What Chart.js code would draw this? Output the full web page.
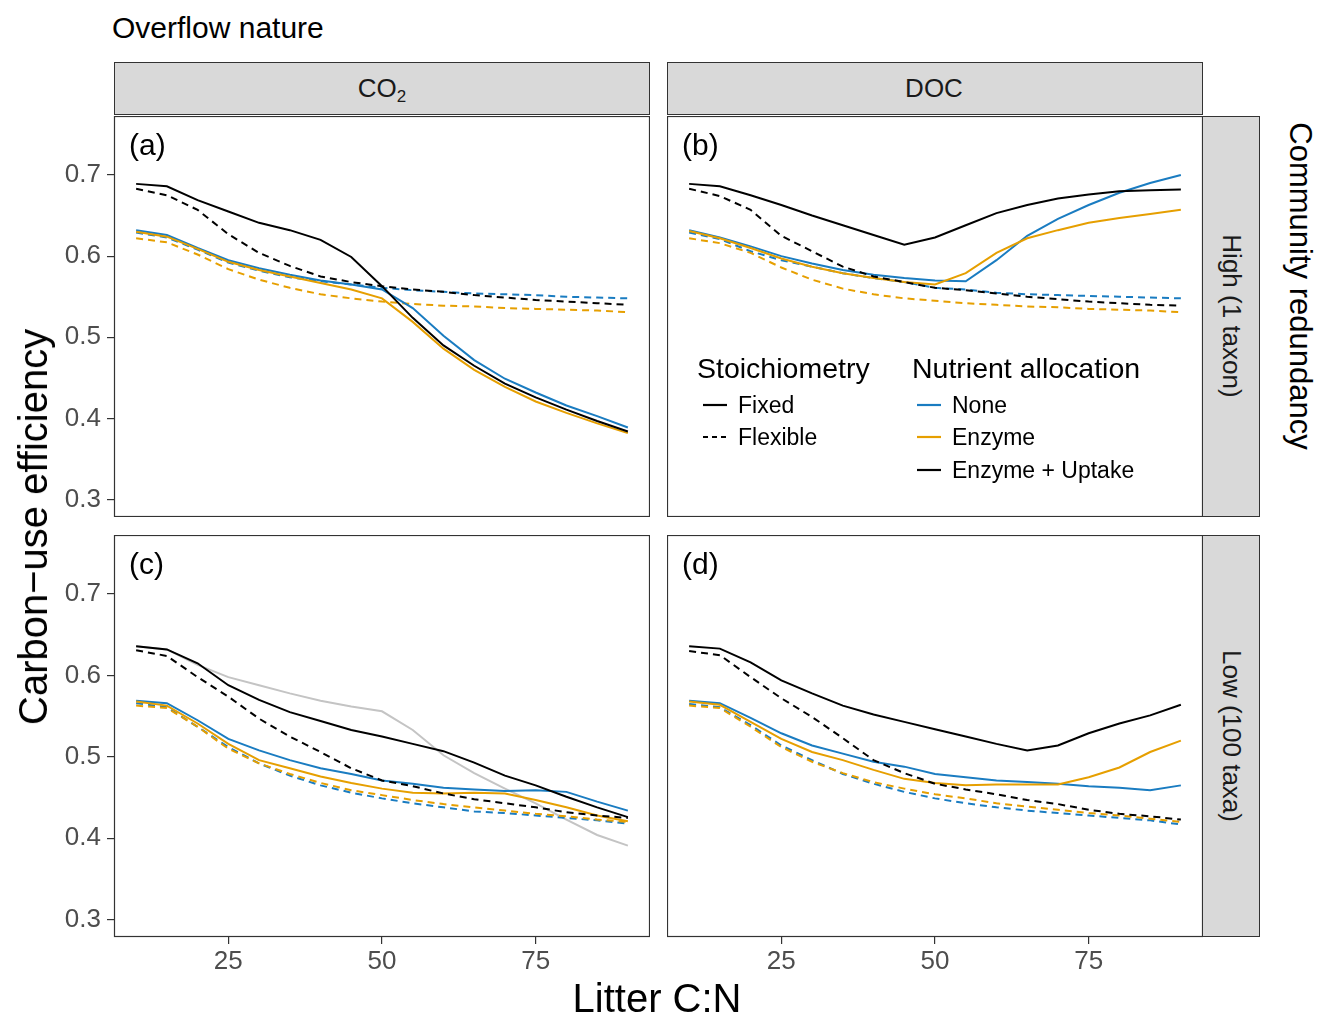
<!DOCTYPE html>
<html>
<head>
<meta charset="utf-8">
<script src="https://cdn.jsdelivr.net/npm/chart.js@4.4.1/dist/chart.umd.min.js"></script>
<style>
  body { margin: 0; background: #fff; font-family: 'Liberation Sans', Arial, sans-serif; }
  #page { position: relative; width: 1317px; height: 1015px; overflow: hidden; background: #fff; }
  canvas { position: absolute; }
  .t { position: absolute; white-space: nowrap; line-height: 1; color: #000; }
  .c { transform: translate(-50%, -50%); }
  .l { transform: translate(0, -50%); }
  .r90 { transform: translate(-50%, -50%) rotate(90deg); }
  .rm90 { transform: translate(-50%, -50%) rotate(-90deg); }
  .strip { position: absolute; background: #d9d9d9; border: 1px solid #333; box-sizing: border-box; }
  .sw { position: absolute; }
</style>
</head>
<body>
<div id="page"></div>
<script>
const FONT = "'Liberation Sans', Arial, sans-serif";

// x = litter C:N
const xs = [10, 15, 20, 25, 30, 35, 40, 45, 50, 55, 60, 65, 70, 75, 80, 85, 90];
const xTicks = [25, 50, 75];
const yTicks = [0.3, 0.4, 0.5, 0.6, 0.7];

// (a) CO2, high redundancy
const co2HighFixedUptake = [0.689, 0.686, 0.669, 0.655, 0.641, 0.632, 0.620, 0.599, 0.563, 0.524, 0.490, 0.465, 0.443, 0.426, 0.411, 0.397, 0.384];
const co2HighFixedEnzyme = [0.630, 0.624, 0.609, 0.593, 0.583, 0.575, 0.567, 0.559, 0.548, 0.519, 0.486, 0.460, 0.439, 0.421, 0.407, 0.394, 0.382];
const co2HighFixedNone   = [0.632, 0.626, 0.610, 0.595, 0.585, 0.577, 0.570, 0.565, 0.559, 0.536, 0.502, 0.472, 0.449, 0.432, 0.416, 0.403, 0.389];
const co2HighFlexUptake  = [0.683, 0.675, 0.657, 0.627, 0.604, 0.588, 0.575, 0.568, 0.563, 0.559, 0.556, 0.552, 0.549, 0.546, 0.544, 0.542, 0.540];
const co2HighFlexEnzyme  = [0.622, 0.617, 0.602, 0.584, 0.571, 0.561, 0.553, 0.548, 0.544, 0.541, 0.539, 0.538, 0.536, 0.535, 0.534, 0.533, 0.531];
const co2HighFlexNone    = [0.629, 0.623, 0.608, 0.592, 0.582, 0.574, 0.569, 0.565, 0.561, 0.558, 0.556, 0.554, 0.553, 0.552, 0.550, 0.549, 0.548];

// (b) DOC, high redundancy
const docHighFixedUptake = [0.689, 0.686, 0.675, 0.663, 0.650, 0.638, 0.626, 0.614, 0.623, 0.638, 0.653, 0.663, 0.671, 0.676, 0.680, 0.681, 0.682];
const docHighFixedEnzyme = [0.631, 0.622, 0.610, 0.597, 0.587, 0.579, 0.573, 0.568, 0.565, 0.579, 0.604, 0.622, 0.632, 0.641, 0.647, 0.652, 0.657];
const docHighFixedNone   = [0.632, 0.623, 0.612, 0.600, 0.591, 0.583, 0.577, 0.573, 0.570, 0.569, 0.595, 0.625, 0.646, 0.663, 0.678, 0.690, 0.700];
const docHighFlexUptake  = [0.683, 0.674, 0.657, 0.625, 0.606, 0.587, 0.575, 0.568, 0.561, 0.558, 0.554, 0.550, 0.547, 0.544, 0.542, 0.540, 0.539];
const docHighFlexEnzyme  = [0.622, 0.616, 0.604, 0.586, 0.571, 0.560, 0.553, 0.548, 0.545, 0.542, 0.540, 0.538, 0.537, 0.535, 0.534, 0.533, 0.531];
const docHighFlexNone    = [0.629, 0.621, 0.606, 0.595, 0.587, 0.579, 0.573, 0.568, 0.561, 0.559, 0.555, 0.553, 0.552, 0.551, 0.550, 0.549, 0.548];

// (c) CO2, low redundancy (+ grey reference line)
const co2LowFixedUptake  = [0.636, 0.632, 0.615, 0.588, 0.570, 0.555, 0.544, 0.533, 0.525, 0.516, 0.507, 0.493, 0.477, 0.465, 0.451, 0.438, 0.426];
const co2LowFixedEnzyme  = [0.568, 0.563, 0.541, 0.516, 0.496, 0.486, 0.476, 0.468, 0.461, 0.456, 0.455, 0.456, 0.455, 0.447, 0.438, 0.428, 0.421];
const co2LowFixedNone    = [0.569, 0.566, 0.545, 0.522, 0.508, 0.496, 0.486, 0.479, 0.471, 0.467, 0.462, 0.460, 0.458, 0.459, 0.457, 0.445, 0.434];
const co2LowFlexUptake   = [0.631, 0.624, 0.598, 0.574, 0.547, 0.525, 0.506, 0.486, 0.471, 0.464, 0.455, 0.448, 0.443, 0.438, 0.432, 0.428, 0.425];
const co2LowFlexEnzyme   = [0.563, 0.560, 0.537, 0.510, 0.492, 0.479, 0.468, 0.459, 0.453, 0.447, 0.442, 0.438, 0.434, 0.430, 0.427, 0.423, 0.420];
const co2LowFlexNone     = [0.566, 0.561, 0.537, 0.512, 0.492, 0.477, 0.465, 0.456, 0.449, 0.443, 0.438, 0.433, 0.431, 0.428, 0.425, 0.422, 0.418];
const co2LowReference    = [0.636, 0.632, 0.613, 0.598, 0.588, 0.578, 0.569, 0.562, 0.556, 0.533, 0.502, 0.480, 0.461, 0.443, 0.423, 0.404, 0.391];

// (d) DOC, low redundancy
const docLowFixedUptake  = [0.636, 0.633, 0.616, 0.594, 0.578, 0.563, 0.552, 0.543, 0.534, 0.525, 0.516, 0.508, 0.514, 0.529, 0.541, 0.551, 0.564];
const docLowFixedEnzyme  = [0.568, 0.564, 0.543, 0.522, 0.506, 0.496, 0.484, 0.473, 0.468, 0.465, 0.466, 0.466, 0.466, 0.475, 0.487, 0.506, 0.520];
const docLowFixedNone    = [0.569, 0.566, 0.548, 0.529, 0.514, 0.504, 0.494, 0.488, 0.479, 0.475, 0.471, 0.469, 0.467, 0.464, 0.462, 0.459, 0.465];
const docLowFlexUptake   = [0.630, 0.625, 0.598, 0.572, 0.549, 0.523, 0.496, 0.480, 0.467, 0.460, 0.454, 0.447, 0.442, 0.435, 0.430, 0.427, 0.423];
const docLowFlexEnzyme   = [0.563, 0.560, 0.537, 0.512, 0.494, 0.480, 0.469, 0.461, 0.454, 0.449, 0.443, 0.439, 0.435, 0.431, 0.428, 0.424, 0.420];
const docLowFlexNone     = [0.565, 0.561, 0.539, 0.514, 0.496, 0.479, 0.467, 0.457, 0.449, 0.443, 0.438, 0.434, 0.431, 0.428, 0.425, 0.422, 0.417];

const BLUE = '#1A7CC1';
const ORANGE = '#E69F00';
const BLACK = '#000000';
const GREY = '#c4c4c4';

const page = document.getElementById('page');

function text(str, x, y, size, cls, color) {
  const d = document.createElement('div');
  d.className = 't ' + cls;
  d.style.left = x + 'px';
  d.style.top = y + 'px';
  d.style.fontSize = size + 'px';
  if (color) d.style.color = color;
  d.innerHTML = str;
  page.appendChild(d);
  return d;
}

function box(x, y, w, h) {
  const d = document.createElement('div');
  d.className = 'strip';
  Object.assign(d.style, { left: x + 'px', top: y + 'px', width: w + 'px', height: h + 'px' });
  page.appendChild(d);
}

function swatch(x, y, color, dashed) {
  const ns = 'http://www.w3.org/2000/svg';
  const svg = document.createElementNS(ns, 'svg');
  svg.setAttribute('width', 26);
  svg.setAttribute('height', 6);
  svg.setAttribute('class', 'sw');
  svg.style.left = x + 'px';
  svg.style.top = (y - 3) + 'px';
  const ln = document.createElementNS(ns, 'line');
  ln.setAttribute('x1', 1); ln.setAttribute('x2', 25);
  ln.setAttribute('y1', 3); ln.setAttribute('y2', 3);
  ln.setAttribute('stroke', color);
  ln.setAttribute('stroke-width', 2.2);
  if (dashed) ln.setAttribute('stroke-dasharray', '5 4');
  svg.appendChild(ln);
  page.appendChild(svg);
}

function line(values, color, dashed, width) {
  return {
    data: xs.map((x, i) => ({ x: x, y: values[i] })),
    borderColor: color,
    borderWidth: width || 2,
    borderDash: dashed ? [7, 5] : [],
    pointRadius: 0,
    tension: 0,
    fill: false
  };
}

const panelFrame = {
  id: 'panelFrame',
  afterDraw(chart) {
    const { ctx, chartArea: a } = chart;
    ctx.save();
    ctx.strokeStyle = '#333333';
    ctx.lineWidth = 1.2;
    ctx.strokeRect(a.left + 0.5, a.top + 0.5, a.right - a.left - 1, a.bottom - a.top - 1);
    ctx.restore();
  }
};

const X_MIN = 6.4, X_MAX = 93.6;
const Y_MIN = 0.2787, Y_MAX = 0.7726;
const Y_AXIS_W = 70, X_AXIS_H = 50;

function makePanel(p) {
  const cv = document.createElement('canvas');
  const left = p.left - (p.showY ? Y_AXIS_W : 0);
  const w = p.w + (p.showY ? Y_AXIS_W : 0);
  const h = p.h + (p.showX ? X_AXIS_H : 0);
  cv.width = w; cv.height = h;
  Object.assign(cv.style, { left: left + 'px', top: p.top + 'px', width: w + 'px', height: h + 'px' });
  page.appendChild(cv);

  new Chart(cv, {
    type: 'line',
    data: { datasets: p.datasets },
    options: {
      responsive: false,
      animation: false,
      devicePixelRatio: 1,
      layout: { padding: 0 },
      plugins: { legend: { display: false }, tooltip: { enabled: false } },
      scales: {
        x: {
          type: 'linear', min: X_MIN, max: X_MAX, display: p.showX,
          afterBuildTicks: s => { s.ticks = xTicks.map(v => ({ value: v })); },
          afterFit: s => { s.height = p.showX ? X_AXIS_H : 0; s.paddingLeft = 0; s.paddingRight = 0; },
          grid: { drawOnChartArea: false, drawTicks: true, tickLength: 7, color: '#333333', lineWidth: 1.2 },
          border: { display: false },
          ticks: { color: '#4d4d4d', font: { family: FONT, size: 26 }, padding: 2, maxRotation: 0, autoSkip: false }
        },
        y: {
          type: 'linear', min: Y_MIN, max: Y_MAX, display: p.showY,
          afterBuildTicks: s => { s.ticks = yTicks.map(v => ({ value: v })); },
          afterFit: s => { s.width = p.showY ? Y_AXIS_W : 0; s.paddingTop = 0; s.paddingBottom = 0; },
          grid: { drawOnChartArea: false, drawTicks: true, tickLength: 7, color: '#333333', lineWidth: 1.2 },
          border: { display: false },
          ticks: { color: '#4d4d4d', font: { family: FONT, size: 26 }, padding: 6, autoSkip: false,
                   callback: v => v.toFixed(1) }
        }
      }
    },
    plugins: [panelFrame]
  });

  text(p.label, p.left + 15, p.top + 29, 30, 'l');
}

function panelSets(uptakeFixed, uptakeFlex, enzymeFixed, noneFixed, enzymeFlex, noneFlex) {
  return [
    line(uptakeFixed, BLACK, false),
    line(uptakeFlex, BLACK, true),
    line(enzymeFixed, ORANGE, false),
    line(noneFixed, BLUE, false),
    line(enzymeFlex, ORANGE, true),
    line(noneFlex, BLUE, true)
  ];
}

const panels = [
  { label: '(a)', left: 114, top: 116, w: 536, h: 401, showY: true, showX: false,
    datasets: panelSets(co2HighFixedUptake, co2HighFlexUptake, co2HighFixedEnzyme, co2HighFixedNone, co2HighFlexEnzyme, co2HighFlexNone) },
  { label: '(b)', left: 667, top: 116, w: 536, h: 401, showY: false, showX: false,
    datasets: panelSets(docHighFixedUptake, docHighFlexUptake, docHighFixedEnzyme, docHighFixedNone, docHighFlexEnzyme, docHighFlexNone) },
  { label: '(c)', left: 114, top: 535, w: 536, h: 402, showY: true, showX: true,
    datasets: panelSets(co2LowFixedUptake, co2LowFlexUptake, co2LowFixedEnzyme, co2LowFixedNone, co2LowFlexEnzyme, co2LowFlexNone)
      .concat([line(co2LowReference, GREY, false)]) },
  { label: '(d)', left: 667, top: 535, w: 536, h: 402, showY: false, showX: true,
    datasets: panelSets(docLowFixedUptake, docLowFlexUptake, docLowFixedEnzyme, docLowFixedNone, docLowFlexEnzyme, docLowFlexNone) }
];

// strips
box(114, 62, 536, 53);
box(667, 62, 536, 53);
box(1202, 116, 58, 401);
box(1202, 535, 58, 402);

panels.forEach(makePanel);

// titles and strip labels
text('Overflow nature', 112, 28, 30, 'l');
text('CO<sub style="font-size:17px;vertical-align:-5px;line-height:0">2</sub>', 382, 88, 26, 'c', '#1a1a1a');
text('DOC', 934, 88, 26, 'c', '#1a1a1a');
text('High (1 taxon)', 1232, 316, 26, 'r90', '#1a1a1a');
text('Low (100 taxa)', 1232, 736, 26, 'r90', '#1a1a1a');
text('Community redundancy', 1300, 286, 31, 'r90');
text('Carbon\u2212use efficiency', 33, 527, 40, 'rm90');
text('Litter C:N', 657, 998, 40, 'c');

// legend inside panel (b)
text('Stoichiometry', 697, 368, 28.5, 'l');
text('Nutrient allocation', 912, 368, 28.5, 'l');
swatch(702, 405, BLACK, false);
text('Fixed', 738, 405, 23, 'l');
swatch(702, 437, BLACK, true);
text('Flexible', 738, 437, 23, 'l');
swatch(916, 405, BLUE, false);
text('None', 952, 405, 23, 'l');
swatch(916, 437, ORANGE, false);
text('Enzyme', 952, 437, 23, 'l');
swatch(916, 470, BLACK, false);
text('Enzyme + Uptake', 952, 470, 23, 'l');
</script>
</body>
</html>
